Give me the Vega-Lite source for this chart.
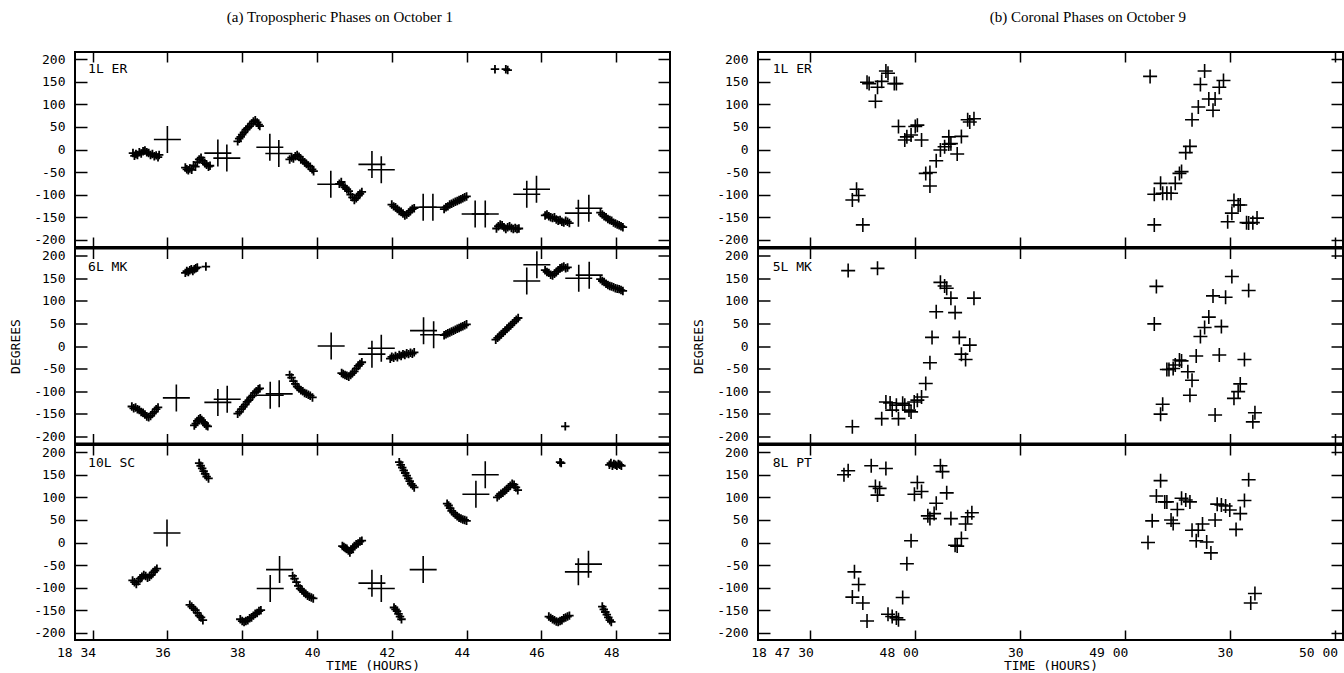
{
"$schema": "https://vega.github.io/schema/vega-lite/v6.json",
"background": "white",
"padding": {"left": 8, "top": 10, "right": 0, "bottom": 0},
"config": {
 "view": {"stroke": "black", "strokeWidth": 2},
 "title": {"font": "Liberation Serif", "fontSize": 15, "fontWeight": "normal", "color": "black", "anchor": "middle"},
 "axis": {"domain": false, "grid": false, "tickColor": "black", "tickWidth": 1.5, "labelFont": "DejaVu Sans Mono", "labelFontSize": 13, "labelColor": "black", "titleFont": "DejaVu Sans Mono", "titleFontSize": 13, "titleFontWeight": "normal", "titleColor": "black"},
 "axisX": {"tickSize": -10, "labelPadding": 16, "labelAlign": "right", "labelOffset": 3, "labelFlush": false, "labelOverlap": false, "titlePadding": 0},
 "axisY": {"tickSize": -12, "labelPadding": 22, "minExtent": 50, "titlePadding": 3, "labelOverlap": false}
},
"datasets": {
 "a": [
{"p":1,"t":35.08,"d":-8,"k":"s"},{"p":1,"t":35.12,"d":-14,"k":"s"},{"p":1,"t":35.16,"d":-10,"k":"s"},{"p":1,"t":35.2,"d":-12,"k":"s"},{"p":1,"t":35.25,"d":-6,"k":"s"},{"p":1,"t":35.3,"d":-9,"k":"s"},{"p":1,"t":35.35,"d":-4,"k":"s"},{"p":1,"t":35.4,"d":-2,"k":"s"},{"p":1,"t":35.45,"d":-6,"k":"s"},{"p":1,"t":35.5,"d":-8,"k":"s"},{"p":1,"t":35.55,"d":-12,"k":"s"},{"p":1,"t":35.6,"d":-10,"k":"s"},{"p":1,"t":35.65,"d":-15,"k":"s"},{"p":1,"t":35.7,"d":-13,"k":"s"},{"p":1,"t":35.75,"d":-17,"k":"s"},{"p":1,"t":35.78,"d":-12,"k":"s"},
{"p":1,"t":36.48,"d":-40,"k":"s"},{"p":1,"t":36.52,"d":-44,"k":"s"},{"p":1,"t":36.56,"d":-46,"k":"s"},{"p":1,"t":36.6,"d":-42,"k":"s"},{"p":1,"t":36.65,"d":-45,"k":"s"},{"p":1,"t":36.7,"d":-35,"k":"s"},{"p":1,"t":36.75,"d":-38,"k":"s"},{"p":1,"t":36.8,"d":-28,"k":"s"},{"p":1,"t":36.85,"d":-22,"k":"s"},{"p":1,"t":36.9,"d":-18,"k":"s"},{"p":1,"t":36.95,"d":-25,"k":"s"},{"p":1,"t":37.0,"d":-30,"k":"s"},{"p":1,"t":37.05,"d":-34,"k":"s"},{"p":1,"t":37.1,"d":-38,"k":"s"},{"p":1,"t":37.14,"d":-36,"k":"s"},
{"p":1,"t":37.88,"d":18,"k":"s"},{"p":1,"t":37.92,"d":24,"k":"s"},{"p":1,"t":37.96,"d":28,"k":"s"},{"p":1,"t":38.0,"d":33,"k":"s"},{"p":1,"t":38.05,"d":38,"k":"s"},{"p":1,"t":38.1,"d":44,"k":"s"},{"p":1,"t":38.15,"d":48,"k":"s"},{"p":1,"t":38.2,"d":52,"k":"s"},{"p":1,"t":38.25,"d":57,"k":"s"},{"p":1,"t":38.3,"d":62,"k":"s"},{"p":1,"t":38.35,"d":65,"k":"s"},{"p":1,"t":38.4,"d":60,"k":"s"},{"p":1,"t":38.44,"d":55,"k":"s"},{"p":1,"t":38.47,"d":52,"k":"s"},
{"p":1,"t":39.27,"d":-22,"k":"s"},{"p":1,"t":39.32,"d":-18,"k":"s"},{"p":1,"t":39.37,"d":-20,"k":"s"},{"p":1,"t":39.42,"d":-15,"k":"s"},{"p":1,"t":39.47,"d":-12,"k":"s"},{"p":1,"t":39.52,"d":-16,"k":"s"},{"p":1,"t":39.57,"d":-22,"k":"s"},{"p":1,"t":39.62,"d":-24,"k":"s"},{"p":1,"t":39.67,"d":-28,"k":"s"},{"p":1,"t":39.72,"d":-32,"k":"s"},{"p":1,"t":39.77,"d":-36,"k":"s"},{"p":1,"t":39.82,"d":-38,"k":"s"},{"p":1,"t":39.87,"d":-44,"k":"s"},{"p":1,"t":39.91,"d":-48,"k":"s"},
{"p":1,"t":40.6,"d":-76,"k":"s"},{"p":1,"t":40.65,"d":-72,"k":"s"},{"p":1,"t":40.7,"d":-80,"k":"s"},{"p":1,"t":40.75,"d":-84,"k":"s"},{"p":1,"t":40.8,"d":-88,"k":"s"},{"p":1,"t":40.85,"d":-92,"k":"s"},{"p":1,"t":40.9,"d":-100,"k":"s"},{"p":1,"t":40.95,"d":-106,"k":"s"},{"p":1,"t":41.0,"d":-112,"k":"s"},{"p":1,"t":41.05,"d":-108,"k":"s"},{"p":1,"t":41.1,"d":-102,"k":"s"},{"p":1,"t":41.15,"d":-98,"k":"s"},{"p":1,"t":41.2,"d":-94,"k":"s"},
{"p":1,"t":42.0,"d":-122,"k":"s"},{"p":1,"t":42.05,"d":-126,"k":"s"},{"p":1,"t":42.1,"d":-128,"k":"s"},{"p":1,"t":42.15,"d":-132,"k":"s"},{"p":1,"t":42.2,"d":-136,"k":"s"},{"p":1,"t":42.25,"d":-138,"k":"s"},{"p":1,"t":42.3,"d":-142,"k":"s"},{"p":1,"t":42.35,"d":-146,"k":"s"},{"p":1,"t":42.4,"d":-144,"k":"s"},{"p":1,"t":42.45,"d":-140,"k":"s"},{"p":1,"t":42.5,"d":-136,"k":"s"},{"p":1,"t":42.55,"d":-132,"k":"s"},{"p":1,"t":42.6,"d":-130,"k":"s"},
{"p":1,"t":43.4,"d":-132,"k":"s"},{"p":1,"t":43.45,"d":-128,"k":"s"},{"p":1,"t":43.5,"d":-126,"k":"s"},{"p":1,"t":43.55,"d":-122,"k":"s"},{"p":1,"t":43.6,"d":-120,"k":"s"},{"p":1,"t":43.65,"d":-118,"k":"s"},{"p":1,"t":43.7,"d":-116,"k":"s"},{"p":1,"t":43.75,"d":-114,"k":"s"},{"p":1,"t":43.8,"d":-112,"k":"s"},{"p":1,"t":43.85,"d":-110,"k":"s"},{"p":1,"t":43.9,"d":-108,"k":"s"},{"p":1,"t":43.95,"d":-106,"k":"s"},{"p":1,"t":44.0,"d":-104,"k":"s"},
{"p":1,"t":44.76,"d":178,"k":"s"},{"p":1,"t":45.05,"d":178,"k":"s"},{"p":1,"t":45.1,"d":176,"k":"s"},
{"p":1,"t":44.8,"d":-175,"k":"s"},{"p":1,"t":44.85,"d":-170,"k":"s"},{"p":1,"t":44.9,"d":-166,"k":"s"},{"p":1,"t":44.95,"d":-168,"k":"s"},{"p":1,"t":45.0,"d":-172,"k":"s"},{"p":1,"t":45.05,"d":-176,"k":"s"},{"p":1,"t":45.1,"d":-172,"k":"s"},{"p":1,"t":45.15,"d":-170,"k":"s"},{"p":1,"t":45.2,"d":-174,"k":"s"},{"p":1,"t":45.25,"d":-176,"k":"s"},{"p":1,"t":45.3,"d":-174,"k":"s"},{"p":1,"t":45.35,"d":-176,"k":"s"},{"p":1,"t":45.4,"d":-175,"k":"s"},
{"p":1,"t":46.1,"d":-146,"k":"s"},{"p":1,"t":46.15,"d":-144,"k":"s"},{"p":1,"t":46.2,"d":-148,"k":"s"},{"p":1,"t":46.25,"d":-150,"k":"s"},{"p":1,"t":46.3,"d":-152,"k":"s"},{"p":1,"t":46.35,"d":-150,"k":"s"},{"p":1,"t":46.4,"d":-155,"k":"s"},{"p":1,"t":46.45,"d":-158,"k":"s"},{"p":1,"t":46.5,"d":-156,"k":"s"},{"p":1,"t":46.55,"d":-160,"k":"s"},{"p":1,"t":46.6,"d":-162,"k":"s"},{"p":1,"t":46.65,"d":-158,"k":"s"},{"p":1,"t":46.7,"d":-160,"k":"s"},{"p":1,"t":46.75,"d":-163,"k":"s"},
{"p":1,"t":47.58,"d":-140,"k":"s"},{"p":1,"t":47.63,"d":-144,"k":"s"},{"p":1,"t":47.68,"d":-148,"k":"s"},{"p":1,"t":47.73,"d":-150,"k":"s"},{"p":1,"t":47.78,"d":-154,"k":"s"},{"p":1,"t":47.83,"d":-156,"k":"s"},{"p":1,"t":47.88,"d":-158,"k":"s"},{"p":1,"t":47.93,"d":-162,"k":"s"},{"p":1,"t":47.98,"d":-164,"k":"s"},{"p":1,"t":48.03,"d":-166,"k":"s"},{"p":1,"t":48.08,"d":-168,"k":"s"},{"p":1,"t":48.13,"d":-170,"k":"s"},{"p":1,"t":48.18,"d":-172,"k":"s"},
{"p":1,"t":36.0,"d":22,"k":"b"},{"p":1,"t":37.35,"d":-8,"k":"b"},{"p":1,"t":37.59,"d":-19,"k":"b"},{"p":1,"t":38.74,"d":5,"k":"b"},{"p":1,"t":38.98,"d":-9,"k":"b"},{"p":1,"t":40.37,"d":-77,"k":"b"},{"p":1,"t":41.47,"d":-33,"k":"b"},{"p":1,"t":41.72,"d":-45,"k":"b"},{"p":1,"t":42.84,"d":-128,"k":"b"},{"p":1,"t":43.1,"d":-128,"k":"b"},{"p":1,"t":44.23,"d":-143,"k":"b"},{"p":1,"t":44.5,"d":-143,"k":"b"},{"p":1,"t":45.61,"d":-99,"k":"b"},{"p":1,"t":45.87,"d":-88,"k":"b"},{"p":1,"t":46.99,"d":-141,"k":"b"},{"p":1,"t":47.27,"d":-130,"k":"b"},
{"p":2,"t":36.48,"d":162,"k":"s"},{"p":2,"t":36.52,"d":166,"k":"s"},{"p":2,"t":36.56,"d":164,"k":"s"},{"p":2,"t":36.6,"d":168,"k":"s"},{"p":2,"t":36.64,"d":170,"k":"s"},{"p":2,"t":36.68,"d":166,"k":"s"},{"p":2,"t":36.72,"d":170,"k":"s"},{"p":2,"t":36.76,"d":172,"k":"s"},{"p":2,"t":36.8,"d":174,"k":"s"},{"p":2,"t":37.03,"d":176,"k":"s"},
{"p":2,"t":35.05,"d":-134,"k":"s"},{"p":2,"t":35.1,"d":-138,"k":"s"},{"p":2,"t":35.15,"d":-136,"k":"s"},{"p":2,"t":35.2,"d":-140,"k":"s"},{"p":2,"t":35.25,"d":-142,"k":"s"},{"p":2,"t":35.3,"d":-146,"k":"s"},{"p":2,"t":35.35,"d":-148,"k":"s"},{"p":2,"t":35.4,"d":-152,"k":"s"},{"p":2,"t":35.45,"d":-156,"k":"s"},{"p":2,"t":35.5,"d":-158,"k":"s"},{"p":2,"t":35.55,"d":-155,"k":"s"},{"p":2,"t":35.6,"d":-150,"k":"s"},{"p":2,"t":35.65,"d":-146,"k":"s"},{"p":2,"t":35.7,"d":-140,"k":"s"},{"p":2,"t":35.75,"d":-136,"k":"s"},
{"p":2,"t":36.72,"d":-176,"k":"s"},{"p":2,"t":36.76,"d":-172,"k":"s"},{"p":2,"t":36.8,"d":-166,"k":"s"},{"p":2,"t":36.84,"d":-162,"k":"s"},{"p":2,"t":36.88,"d":-160,"k":"s"},{"p":2,"t":36.92,"d":-164,"k":"s"},{"p":2,"t":36.96,"d":-168,"k":"s"},{"p":2,"t":37.0,"d":-172,"k":"s"},{"p":2,"t":37.04,"d":-176,"k":"s"},{"p":2,"t":37.08,"d":-178,"k":"s"},
{"p":2,"t":37.88,"d":-150,"k":"s"},{"p":2,"t":37.93,"d":-146,"k":"s"},{"p":2,"t":37.98,"d":-140,"k":"s"},{"p":2,"t":38.03,"d":-135,"k":"s"},{"p":2,"t":38.08,"d":-130,"k":"s"},{"p":2,"t":38.13,"d":-124,"k":"s"},{"p":2,"t":38.18,"d":-120,"k":"s"},{"p":2,"t":38.23,"d":-114,"k":"s"},{"p":2,"t":38.28,"d":-110,"k":"s"},{"p":2,"t":38.33,"d":-104,"k":"s"},{"p":2,"t":38.38,"d":-100,"k":"s"},{"p":2,"t":38.43,"d":-96,"k":"s"},{"p":2,"t":38.47,"d":-94,"k":"s"},
{"p":2,"t":39.27,"d":-64,"k":"s"},{"p":2,"t":39.32,"d":-70,"k":"s"},{"p":2,"t":39.37,"d":-78,"k":"s"},{"p":2,"t":39.42,"d":-84,"k":"s"},{"p":2,"t":39.47,"d":-90,"k":"s"},{"p":2,"t":39.52,"d":-94,"k":"s"},{"p":2,"t":39.57,"d":-98,"k":"s"},{"p":2,"t":39.62,"d":-100,"k":"s"},{"p":2,"t":39.67,"d":-104,"k":"s"},{"p":2,"t":39.72,"d":-106,"k":"s"},{"p":2,"t":39.77,"d":-108,"k":"s"},{"p":2,"t":39.82,"d":-110,"k":"s"},{"p":2,"t":39.88,"d":-114,"k":"s"},
{"p":2,"t":40.66,"d":-60,"k":"s"},{"p":2,"t":40.7,"d":-62,"k":"s"},{"p":2,"t":40.75,"d":-64,"k":"s"},{"p":2,"t":40.8,"d":-66,"k":"s"},{"p":2,"t":40.85,"d":-68,"k":"s"},{"p":2,"t":40.9,"d":-64,"k":"s"},{"p":2,"t":40.95,"d":-60,"k":"s"},{"p":2,"t":41.0,"d":-56,"k":"s"},{"p":2,"t":41.05,"d":-50,"k":"s"},{"p":2,"t":41.1,"d":-44,"k":"s"},{"p":2,"t":41.15,"d":-40,"k":"s"},{"p":2,"t":41.2,"d":-36,"k":"s"},
{"p":2,"t":41.96,"d":-28,"k":"s"},{"p":2,"t":42.0,"d":-24,"k":"s"},{"p":2,"t":42.05,"d":-26,"k":"s"},{"p":2,"t":42.1,"d":-22,"k":"s"},{"p":2,"t":42.15,"d":-25,"k":"s"},{"p":2,"t":42.2,"d":-20,"k":"s"},{"p":2,"t":42.25,"d":-22,"k":"s"},{"p":2,"t":42.3,"d":-18,"k":"s"},{"p":2,"t":42.35,"d":-20,"k":"s"},{"p":2,"t":42.4,"d":-16,"k":"s"},{"p":2,"t":42.45,"d":-18,"k":"s"},{"p":2,"t":42.5,"d":-15,"k":"s"},{"p":2,"t":42.55,"d":-17,"k":"s"},{"p":2,"t":42.6,"d":-14,"k":"s"},
{"p":2,"t":43.4,"d":24,"k":"s"},{"p":2,"t":43.45,"d":26,"k":"s"},{"p":2,"t":43.5,"d":28,"k":"s"},{"p":2,"t":43.55,"d":30,"k":"s"},{"p":2,"t":43.6,"d":32,"k":"s"},{"p":2,"t":43.65,"d":34,"k":"s"},{"p":2,"t":43.7,"d":36,"k":"s"},{"p":2,"t":43.75,"d":38,"k":"s"},{"p":2,"t":43.8,"d":40,"k":"s"},{"p":2,"t":43.85,"d":42,"k":"s"},{"p":2,"t":43.9,"d":44,"k":"s"},{"p":2,"t":43.95,"d":46,"k":"s"},{"p":2,"t":44.0,"d":48,"k":"s"},
{"p":2,"t":44.78,"d":14,"k":"s"},{"p":2,"t":44.83,"d":18,"k":"s"},{"p":2,"t":44.88,"d":22,"k":"s"},{"p":2,"t":44.93,"d":26,"k":"s"},{"p":2,"t":44.98,"d":30,"k":"s"},{"p":2,"t":45.03,"d":34,"k":"s"},{"p":2,"t":45.08,"d":38,"k":"s"},{"p":2,"t":45.13,"d":42,"k":"s"},{"p":2,"t":45.18,"d":46,"k":"s"},{"p":2,"t":45.23,"d":50,"k":"s"},{"p":2,"t":45.28,"d":54,"k":"s"},{"p":2,"t":45.33,"d":58,"k":"s"},{"p":2,"t":45.38,"d":62,"k":"s"},
{"p":2,"t":46.1,"d":168,"k":"s"},{"p":2,"t":46.15,"d":164,"k":"s"},{"p":2,"t":46.2,"d":162,"k":"s"},{"p":2,"t":46.25,"d":158,"k":"s"},{"p":2,"t":46.3,"d":156,"k":"s"},{"p":2,"t":46.35,"d":160,"k":"s"},{"p":2,"t":46.4,"d":164,"k":"s"},{"p":2,"t":46.45,"d":168,"k":"s"},{"p":2,"t":46.5,"d":172,"k":"s"},{"p":2,"t":46.55,"d":174,"k":"s"},{"p":2,"t":46.6,"d":176,"k":"s"},{"p":2,"t":46.65,"d":172,"k":"s"},{"p":2,"t":46.7,"d":174,"k":"s"},
{"p":2,"t":47.58,"d":148,"k":"s"},{"p":2,"t":47.63,"d":144,"k":"s"},{"p":2,"t":47.68,"d":142,"k":"s"},{"p":2,"t":47.73,"d":138,"k":"s"},{"p":2,"t":47.78,"d":135,"k":"s"},{"p":2,"t":47.83,"d":133,"k":"s"},{"p":2,"t":47.88,"d":132,"k":"s"},{"p":2,"t":47.93,"d":130,"k":"s"},{"p":2,"t":47.98,"d":128,"k":"s"},{"p":2,"t":48.03,"d":127,"k":"s"},{"p":2,"t":48.08,"d":126,"k":"s"},{"p":2,"t":48.13,"d":124,"k":"s"},{"p":2,"t":48.18,"d":122,"k":"s"},
{"p":2,"t":46.64,"d":-178,"k":"s"},
{"p":2,"t":36.24,"d":-115,"k":"b"},{"p":2,"t":37.35,"d":-125,"k":"b"},{"p":2,"t":37.6,"d":-118,"k":"b"},{"p":2,"t":38.75,"d":-109,"k":"b"},{"p":2,"t":38.99,"d":-106,"k":"b"},{"p":2,"t":40.38,"d":0,"k":"b"},{"p":2,"t":41.47,"d":-18,"k":"b"},{"p":2,"t":41.72,"d":-5,"k":"b"},{"p":2,"t":42.85,"d":34,"k":"b"},{"p":2,"t":43.12,"d":25,"k":"b"},{"p":2,"t":45.61,"d":144,"k":"b"},{"p":2,"t":45.88,"d":180,"k":"b"},{"p":2,"t":47.0,"d":150,"k":"b"},{"p":2,"t":47.28,"d":157,"k":"b"},
{"p":3,"t":35.07,"d":-84,"k":"s"},{"p":3,"t":35.12,"d":-88,"k":"s"},{"p":3,"t":35.17,"d":-92,"k":"s"},{"p":3,"t":35.22,"d":-86,"k":"s"},{"p":3,"t":35.27,"d":-80,"k":"s"},{"p":3,"t":35.32,"d":-76,"k":"s"},{"p":3,"t":35.37,"d":-72,"k":"s"},{"p":3,"t":35.42,"d":-74,"k":"s"},{"p":3,"t":35.47,"d":-78,"k":"s"},{"p":3,"t":35.52,"d":-76,"k":"s"},{"p":3,"t":35.57,"d":-72,"k":"s"},{"p":3,"t":35.62,"d":-66,"k":"s"},{"p":3,"t":35.67,"d":-62,"k":"s"},{"p":3,"t":35.72,"d":-58,"k":"s"},
{"p":3,"t":36.6,"d":-138,"k":"s"},{"p":3,"t":36.65,"d":-142,"k":"s"},{"p":3,"t":36.7,"d":-146,"k":"s"},{"p":3,"t":36.75,"d":-150,"k":"s"},{"p":3,"t":36.8,"d":-156,"k":"s"},{"p":3,"t":36.85,"d":-162,"k":"s"},{"p":3,"t":36.9,"d":-166,"k":"s"},{"p":3,"t":36.95,"d":-172,"k":"s"},
{"p":3,"t":36.85,"d":176,"k":"s"},{"p":3,"t":36.89,"d":170,"k":"s"},{"p":3,"t":36.93,"d":164,"k":"s"},{"p":3,"t":36.97,"d":158,"k":"s"},{"p":3,"t":37.01,"d":152,"k":"s"},{"p":3,"t":37.05,"d":146,"k":"s"},{"p":3,"t":37.1,"d":142,"k":"s"},
{"p":3,"t":37.95,"d":-170,"k":"s"},{"p":3,"t":38.0,"d":-174,"k":"s"},{"p":3,"t":38.05,"d":-176,"k":"s"},{"p":3,"t":38.1,"d":-174,"k":"s"},{"p":3,"t":38.15,"d":-172,"k":"s"},{"p":3,"t":38.2,"d":-168,"k":"s"},{"p":3,"t":38.25,"d":-166,"k":"s"},{"p":3,"t":38.3,"d":-162,"k":"s"},{"p":3,"t":38.35,"d":-158,"k":"s"},{"p":3,"t":38.4,"d":-156,"k":"s"},{"p":3,"t":38.45,"d":-152,"k":"s"},{"p":3,"t":38.5,"d":-150,"k":"s"},
{"p":3,"t":39.35,"d":-74,"k":"s"},{"p":3,"t":39.4,"d":-80,"k":"s"},{"p":3,"t":39.45,"d":-88,"k":"s"},{"p":3,"t":39.5,"d":-96,"k":"s"},{"p":3,"t":39.55,"d":-102,"k":"s"},{"p":3,"t":39.6,"d":-106,"k":"s"},{"p":3,"t":39.65,"d":-110,"k":"s"},{"p":3,"t":39.7,"d":-114,"k":"s"},{"p":3,"t":39.75,"d":-118,"k":"s"},{"p":3,"t":39.8,"d":-120,"k":"s"},{"p":3,"t":39.85,"d":-122,"k":"s"},{"p":3,"t":39.9,"d":-124,"k":"s"},
{"p":3,"t":40.68,"d":-8,"k":"s"},{"p":3,"t":40.72,"d":-10,"k":"s"},{"p":3,"t":40.76,"d":-12,"k":"s"},{"p":3,"t":40.8,"d":-14,"k":"s"},{"p":3,"t":40.84,"d":-18,"k":"s"},{"p":3,"t":40.88,"d":-22,"k":"s"},{"p":3,"t":40.92,"d":-16,"k":"s"},{"p":3,"t":40.96,"d":-12,"k":"s"},{"p":3,"t":41.0,"d":-8,"k":"s"},{"p":3,"t":41.05,"d":-4,"k":"s"},{"p":3,"t":41.1,"d":-2,"k":"s"},{"p":3,"t":41.15,"d":2,"k":"s"},{"p":3,"t":41.2,"d":4,"k":"s"},
{"p":3,"t":42.06,"d":-144,"k":"s"},{"p":3,"t":42.1,"d":-148,"k":"s"},{"p":3,"t":42.14,"d":-152,"k":"s"},{"p":3,"t":42.18,"d":-158,"k":"s"},{"p":3,"t":42.22,"d":-164,"k":"s"},{"p":3,"t":42.26,"d":-170,"k":"s"},
{"p":3,"t":42.2,"d":178,"k":"s"},{"p":3,"t":42.24,"d":172,"k":"s"},{"p":3,"t":42.28,"d":166,"k":"s"},{"p":3,"t":42.32,"d":160,"k":"s"},{"p":3,"t":42.36,"d":154,"k":"s"},{"p":3,"t":42.4,"d":148,"k":"s"},{"p":3,"t":42.44,"d":142,"k":"s"},{"p":3,"t":42.48,"d":136,"k":"s"},{"p":3,"t":42.52,"d":130,"k":"s"},{"p":3,"t":42.56,"d":126,"k":"s"},{"p":3,"t":42.6,"d":122,"k":"s"},
{"p":3,"t":43.48,"d":86,"k":"s"},{"p":3,"t":43.52,"d":82,"k":"s"},{"p":3,"t":43.56,"d":76,"k":"s"},{"p":3,"t":43.6,"d":70,"k":"s"},{"p":3,"t":43.65,"d":66,"k":"s"},{"p":3,"t":43.7,"d":62,"k":"s"},{"p":3,"t":43.75,"d":58,"k":"s"},{"p":3,"t":43.8,"d":55,"k":"s"},{"p":3,"t":43.85,"d":53,"k":"s"},{"p":3,"t":43.9,"d":51,"k":"s"},{"p":3,"t":43.95,"d":50,"k":"s"},{"p":3,"t":44.0,"d":48,"k":"s"},
{"p":3,"t":44.82,"d":100,"k":"s"},{"p":3,"t":44.87,"d":104,"k":"s"},{"p":3,"t":44.92,"d":108,"k":"s"},{"p":3,"t":44.97,"d":110,"k":"s"},{"p":3,"t":45.02,"d":114,"k":"s"},{"p":3,"t":45.07,"d":118,"k":"s"},{"p":3,"t":45.12,"d":122,"k":"s"},{"p":3,"t":45.17,"d":126,"k":"s"},{"p":3,"t":45.22,"d":130,"k":"s"},{"p":3,"t":45.27,"d":128,"k":"s"},{"p":3,"t":45.32,"d":122,"k":"s"},{"p":3,"t":45.37,"d":116,"k":"s"},
{"p":3,"t":46.5,"d":178,"k":"s"},{"p":3,"t":46.53,"d":176,"k":"s"},
{"p":3,"t":46.2,"d":-164,"k":"s"},{"p":3,"t":46.25,"d":-167,"k":"s"},{"p":3,"t":46.3,"d":-170,"k":"s"},{"p":3,"t":46.35,"d":-172,"k":"s"},{"p":3,"t":46.4,"d":-175,"k":"s"},{"p":3,"t":46.45,"d":-176,"k":"s"},{"p":3,"t":46.5,"d":-174,"k":"s"},{"p":3,"t":46.55,"d":-172,"k":"s"},{"p":3,"t":46.6,"d":-168,"k":"s"},{"p":3,"t":46.65,"d":-166,"k":"s"},{"p":3,"t":46.7,"d":-164,"k":"s"},{"p":3,"t":46.75,"d":-162,"k":"s"},
{"p":3,"t":47.63,"d":-142,"k":"s"},{"p":3,"t":47.67,"d":-148,"k":"s"},{"p":3,"t":47.71,"d":-154,"k":"s"},{"p":3,"t":47.75,"d":-160,"k":"s"},{"p":3,"t":47.79,"d":-166,"k":"s"},{"p":3,"t":47.83,"d":-172,"k":"s"},{"p":3,"t":47.87,"d":-176,"k":"s"},
{"p":3,"t":47.82,"d":172,"k":"s"},{"p":3,"t":47.86,"d":176,"k":"s"},{"p":3,"t":47.9,"d":170,"k":"s"},{"p":3,"t":47.94,"d":174,"k":"s"},{"p":3,"t":47.98,"d":172,"k":"s"},{"p":3,"t":48.02,"d":170,"k":"s"},{"p":3,"t":48.06,"d":174,"k":"s"},{"p":3,"t":48.1,"d":172,"k":"s"},{"p":3,"t":48.14,"d":170,"k":"s"},
{"p":3,"t":35.99,"d":21,"k":"b"},{"p":3,"t":38.75,"d":-102,"k":"b"},{"p":3,"t":39.0,"d":-60,"k":"b"},{"p":3,"t":41.47,"d":-90,"k":"b"},{"p":3,"t":41.72,"d":-102,"k":"b"},{"p":3,"t":42.84,"d":-60,"k":"b"},{"p":3,"t":44.25,"d":107,"k":"b"},{"p":3,"t":44.5,"d":150,"k":"b"},{"p":3,"t":46.99,"d":-65,"k":"b"},{"p":3,"t":47.26,"d":-48,"k":"b"}
 ],
 "b": [
{"p":1,"t":47.70,"d":-112,"k":"m"},{"p":1,"t":47.72,"d":-88,"k":"m"},{"p":1,"t":47.73,"d":-102,"k":"m"},{"p":1,"t":47.75,"d":-167,"k":"m"},{"p":1,"t":47.77,"d":149,"k":"m"},{"p":1,"t":47.78,"d":146,"k":"m"},{"p":1,"t":47.82,"d":138,"k":"m"},{"p":1,"t":47.84,"d":151,"k":"m"},{"p":1,"t":47.81,"d":107,"k":"m"},{"p":1,"t":47.86,"d":174,"k":"m"},{"p":1,"t":47.87,"d":169,"k":"m"},{"p":1,"t":47.90,"d":146,"k":"m"},{"p":1,"t":47.91,"d":146,"k":"m"},{"p":1,"t":47.92,"d":51,"k":"m"},{"p":1,"t":47.95,"d":21,"k":"m"},{"p":1,"t":47.96,"d":28,"k":"m"},{"p":1,"t":47.98,"d":32,"k":"m"},{"p":1,"t":48.0,"d":51,"k":"m"},{"p":1,"t":48.01,"d":54,"k":"m"},{"p":1,"t":48.03,"d":21,"k":"m"},{"p":1,"t":48.05,"d":-53,"k":"m"},{"p":1,"t":48.07,"d":-51,"k":"m"},{"p":1,"t":48.07,"d":-81,"k":"m"},{"p":1,"t":48.10,"d":-25,"k":"m"},{"p":1,"t":48.12,"d":-1,"k":"m"},{"p":1,"t":48.14,"d":6,"k":"m"},{"p":1,"t":48.16,"d":28,"k":"m"},{"p":1,"t":48.16,"d":12,"k":"m"},{"p":1,"t":48.17,"d":13,"k":"m"},{"p":1,"t":48.20,"d":-10,"k":"m"},{"p":1,"t":48.22,"d":29,"k":"m"},{"p":1,"t":48.25,"d":66,"k":"m"},{"p":1,"t":48.26,"d":61,"k":"m"},{"p":1,"t":48.28,"d":68,"k":"m"},
{"p":1,"t":49.12,"d":162,"k":"m"},{"p":1,"t":49.14,"d":-167,"k":"m"},{"p":1,"t":49.14,"d":-99,"k":"m"},{"p":1,"t":49.17,"d":-75,"k":"m"},{"p":1,"t":49.18,"d":-97,"k":"m"},{"p":1,"t":49.20,"d":-97,"k":"m"},{"p":1,"t":49.22,"d":-97,"k":"m"},{"p":1,"t":49.24,"d":-75,"k":"m"},{"p":1,"t":49.26,"d":-53,"k":"m"},{"p":1,"t":49.27,"d":-49,"k":"m"},{"p":1,"t":49.29,"d":-7,"k":"m"},{"p":1,"t":49.31,"d":7,"k":"m"},{"p":1,"t":49.32,"d":66,"k":"m"},{"p":1,"t":49.35,"d":94,"k":"m"},{"p":1,"t":49.36,"d":144,"k":"m"},{"p":1,"t":49.38,"d":174,"k":"m"},{"p":1,"t":49.40,"d":112,"k":"m"},{"p":1,"t":49.43,"d":112,"k":"m"},{"p":1,"t":49.42,"d":87,"k":"m"},{"p":1,"t":49.45,"d":138,"k":"m"},{"p":1,"t":49.47,"d":153,"k":"m"},{"p":1,"t":49.49,"d":-160,"k":"m"},{"p":1,"t":49.51,"d":-141,"k":"m"},{"p":1,"t":49.52,"d":-113,"k":"m"},{"p":1,"t":49.54,"d":-123,"k":"m"},{"p":1,"t":49.55,"d":-123,"k":"m"},{"p":1,"t":49.58,"d":-162,"k":"m"},{"p":1,"t":49.59,"d":-163,"k":"m"},{"p":1,"t":49.61,"d":-162,"k":"m"},{"p":1,"t":49.63,"d":-152,"k":"m"},
{"p":2,"t":47.68,"d":167,"k":"m"},{"p":2,"t":47.82,"d":172,"k":"m"},{"p":2,"t":47.70,"d":-179,"k":"m"},{"p":2,"t":47.84,"d":-161,"k":"m"},{"p":2,"t":47.86,"d":-124,"k":"m"},{"p":2,"t":47.88,"d":-126,"k":"m"},{"p":2,"t":47.89,"d":-142,"k":"m"},{"p":2,"t":47.91,"d":-131,"k":"m"},{"p":2,"t":47.92,"d":-161,"k":"m"},{"p":2,"t":47.94,"d":-127,"k":"m"},{"p":2,"t":47.95,"d":-131,"k":"m"},{"p":2,"t":47.97,"d":-142,"k":"m"},{"p":2,"t":47.98,"d":-146,"k":"m"},{"p":2,"t":47.995,"d":-124,"k":"m"},{"p":2,"t":48.01,"d":-120,"k":"m"},{"p":2,"t":48.03,"d":-113,"k":"m"},{"p":2,"t":48.05,"d":-83,"k":"m"},{"p":2,"t":48.07,"d":-37,"k":"m"},{"p":2,"t":48.08,"d":19,"k":"m"},{"p":2,"t":48.10,"d":76,"k":"m"},{"p":2,"t":48.12,"d":141,"k":"m"},{"p":2,"t":48.14,"d":133,"k":"m"},{"p":2,"t":48.15,"d":128,"k":"m"},{"p":2,"t":48.17,"d":106,"k":"m"},{"p":2,"t":48.19,"d":74,"k":"m"},{"p":2,"t":48.21,"d":19,"k":"m"},{"p":2,"t":48.22,"d":-18,"k":"m"},{"p":2,"t":48.24,"d":-30,"k":"m"},{"p":2,"t":48.26,"d":2,"k":"m"},{"p":2,"t":48.28,"d":106,"k":"m"},
{"p":2,"t":49.14,"d":49,"k":"m"},{"p":2,"t":49.15,"d":132,"k":"m"},{"p":2,"t":49.17,"d":-151,"k":"m"},{"p":2,"t":49.18,"d":-129,"k":"m"},{"p":2,"t":49.20,"d":-52,"k":"m"},{"p":2,"t":49.21,"d":-52,"k":"m"},{"p":2,"t":49.23,"d":-50,"k":"m"},{"p":2,"t":49.24,"d":-42,"k":"m"},{"p":2,"t":49.26,"d":-31,"k":"m"},{"p":2,"t":49.27,"d":-33,"k":"m"},{"p":2,"t":49.30,"d":-57,"k":"m"},{"p":2,"t":49.32,"d":-76,"k":"m"},{"p":2,"t":49.31,"d":-109,"k":"m"},{"p":2,"t":49.34,"d":-22,"k":"m"},{"p":2,"t":49.36,"d":21,"k":"m"},{"p":2,"t":49.38,"d":41,"k":"m"},{"p":2,"t":49.40,"d":64,"k":"m"},{"p":2,"t":49.42,"d":111,"k":"m"},{"p":2,"t":49.43,"d":-153,"k":"m"},{"p":2,"t":49.45,"d":-20,"k":"m"},{"p":2,"t":49.46,"d":43,"k":"m"},{"p":2,"t":49.48,"d":108,"k":"m"},{"p":2,"t":49.51,"d":154,"k":"m"},{"p":2,"t":49.52,"d":-116,"k":"m"},{"p":2,"t":49.54,"d":-101,"k":"m"},{"p":2,"t":49.55,"d":-84,"k":"m"},{"p":2,"t":49.57,"d":-30,"k":"m"},{"p":2,"t":49.59,"d":123,"k":"m"},{"p":2,"t":49.61,"d":-168,"k":"m"},{"p":2,"t":49.62,"d":-148,"k":"m"},
{"p":3,"t":47.66,"d":150,"k":"m"},{"p":3,"t":47.68,"d":159,"k":"m"},{"p":3,"t":47.70,"d":-121,"k":"m"},{"p":3,"t":47.71,"d":-65,"k":"m"},{"p":3,"t":47.73,"d":-93,"k":"m"},{"p":3,"t":47.75,"d":-134,"k":"m"},{"p":3,"t":47.77,"d":-174,"k":"m"},{"p":3,"t":47.79,"d":170,"k":"m"},{"p":3,"t":47.81,"d":124,"k":"m"},{"p":3,"t":47.82,"d":105,"k":"m"},{"p":3,"t":47.83,"d":120,"k":"m"},{"p":3,"t":47.86,"d":164,"k":"m"},{"p":3,"t":47.87,"d":-159,"k":"m"},{"p":3,"t":47.89,"d":-164,"k":"m"},{"p":3,"t":47.91,"d":-167,"k":"m"},{"p":3,"t":47.92,"d":-171,"k":"m"},{"p":3,"t":47.94,"d":-122,"k":"m"},{"p":3,"t":47.96,"d":-47,"k":"m"},{"p":3,"t":47.98,"d":4,"k":"m"},{"p":3,"t":47.996,"d":107,"k":"m"},{"p":3,"t":48.01,"d":133,"k":"m"},{"p":3,"t":48.03,"d":113,"k":"m"},{"p":3,"t":48.06,"d":59,"k":"m"},{"p":3,"t":48.07,"d":53,"k":"m"},{"p":3,"t":48.09,"d":64,"k":"m"},{"p":3,"t":48.10,"d":87,"k":"m"},{"p":3,"t":48.12,"d":170,"k":"m"},{"p":3,"t":48.13,"d":157,"k":"m"},{"p":3,"t":48.15,"d":110,"k":"m"},{"p":3,"t":48.17,"d":53,"k":"m"},{"p":3,"t":48.19,"d":-6,"k":"m"},{"p":3,"t":48.20,"d":-8,"k":"m"},{"p":3,"t":48.22,"d":9,"k":"m"},{"p":3,"t":48.24,"d":41,"k":"m"},{"p":3,"t":48.25,"d":57,"k":"m"},{"p":3,"t":48.27,"d":66,"k":"m"},
{"p":3,"t":49.11,"d":0,"k":"m"},{"p":3,"t":49.13,"d":48,"k":"m"},{"p":3,"t":49.15,"d":103,"k":"m"},{"p":3,"t":49.17,"d":137,"k":"m"},{"p":3,"t":49.19,"d":90,"k":"m"},{"p":3,"t":49.20,"d":90,"k":"m"},{"p":3,"t":49.22,"d":50,"k":"m"},{"p":3,"t":49.23,"d":42,"k":"m"},{"p":3,"t":49.25,"d":73,"k":"m"},{"p":3,"t":49.27,"d":98,"k":"m"},{"p":3,"t":49.29,"d":94,"k":"m"},{"p":3,"t":49.31,"d":90,"k":"m"},{"p":3,"t":49.32,"d":27,"k":"m"},{"p":3,"t":49.34,"d":4,"k":"m"},{"p":3,"t":49.35,"d":27,"k":"m"},{"p":3,"t":49.37,"d":41,"k":"m"},{"p":3,"t":49.39,"d":1,"k":"m"},{"p":3,"t":49.41,"d":-23,"k":"m"},{"p":3,"t":49.43,"d":50,"k":"m"},{"p":3,"t":49.44,"d":85,"k":"m"},{"p":3,"t":49.46,"d":83,"k":"m"},{"p":3,"t":49.48,"d":81,"k":"m"},{"p":3,"t":49.50,"d":72,"k":"m"},{"p":3,"t":49.53,"d":29,"k":"m"},{"p":3,"t":49.55,"d":64,"k":"m"},{"p":3,"t":49.57,"d":93,"k":"m"},{"p":3,"t":49.59,"d":139,"k":"m"},{"p":3,"t":49.60,"d":-134,"k":"m"},{"p":3,"t":49.62,"d":-113,"k":"m"}
 ]
},
"spacing": 19,
"hconcat": [
 {
  "title": {"text": "(a) Tropospheric Phases on October 1", "offset": 25},
  "spacing": 1.5,
  "bounds": "flush",
  "vconcat": [
   {"width": 595, "height": 195, "layer": [
    {"data": {"name": "a"}, "transform": [{"filter": "datum.p == 1"}],
     "mark": {"type": "point", "shape": "M-1,0H1M0,-1V1", "filled": false, "stroke": "black", "opacity": 1},
     "encoding": {
      "x": {"field": "t", "type": "quantitative", "scale": {"domain": [33.53, 49.44], "nice": false, "zero": false}, "axis": {"orient": "bottom", "values": [34,36,38,40,42,44,46,48], "labels": false, "title": null}},
      "y": {"field": "d", "type": "quantitative", "scale": {"domain": [-216, 216], "nice": false, "zero": false}, "axis": {"orient": "left", "values": [-200,-150,-100,-50,0,50,100,150,200], "labelExpr": "'' + datum.value", "title": null}},
      "size": {"condition": {"test": "datum.k == 'b'", "value": 729}, "value": 72},
      "strokeWidth": {"condition": {"test": "datum.k == 'b'", "value": 1.6}, "value": 1.8}
     }},
    {"data": {"values": [{"label": "1L ER"}]},
     "mark": {"type": "text", "align": "left", "baseline": "middle", "font": "DejaVu Sans Mono", "fontSize": 13, "color": "black"},
     "encoding": {
      "text": {"field": "label"},
      "x": {"datum": 33.88, "type": "quantitative", "axis": {"orient": "top", "values": [34,36,38,40,42,44,46,48], "labels": false, "title": null}},
      "y": {"datum": 178, "type": "quantitative", "axis": {"orient": "right", "values": [-200,-150,-100,-50,0,50,100,150,200], "labels": false, "title": null, "minExtent": 0}}
     }}
   ]},
   {"width": 595, "height": 195, "layer": [
    {"data": {"name": "a"}, "transform": [{"filter": "datum.p == 2"}],
     "mark": {"type": "point", "shape": "M-1,0H1M0,-1V1", "filled": false, "stroke": "black", "opacity": 1},
     "encoding": {
      "x": {"field": "t", "type": "quantitative", "scale": {"domain": [33.53, 49.44], "nice": false, "zero": false}, "axis": {"orient": "bottom", "values": [34,36,38,40,42,44,46,48], "labels": false, "title": null}},
      "y": {"field": "d", "type": "quantitative", "scale": {"domain": [-216, 216], "nice": false, "zero": false}, "axis": {"orient": "left", "values": [-200,-150,-100,-50,0,50,100,150,200], "labelExpr": "'' + datum.value", "title": "DEGREES"}},
      "size": {"condition": {"test": "datum.k == 'b'", "value": 729}, "value": 72},
      "strokeWidth": {"condition": {"test": "datum.k == 'b'", "value": 1.6}, "value": 1.8}
     }},
    {"data": {"values": [{"label": "6L MK"}]},
     "mark": {"type": "text", "align": "left", "baseline": "middle", "font": "DejaVu Sans Mono", "fontSize": 13, "color": "black"},
     "encoding": {
      "text": {"field": "label"},
      "x": {"datum": 33.88, "type": "quantitative", "axis": {"orient": "top", "values": [34,36,38,40,42,44,46,48], "labels": false, "title": null}},
      "y": {"datum": 176, "type": "quantitative", "axis": {"orient": "right", "values": [-200,-150,-100,-50,0,50,100,150,200], "labels": false, "title": null, "minExtent": 0}}
     }}
   ]},
   {"width": 595, "height": 195, "layer": [
    {"data": {"name": "a"}, "transform": [{"filter": "datum.p == 3"}],
     "mark": {"type": "point", "shape": "M-1,0H1M0,-1V1", "filled": false, "stroke": "black", "opacity": 1},
     "encoding": {
      "x": {"field": "t", "type": "quantitative", "scale": {"domain": [33.53, 49.44], "nice": false, "zero": false}, "axis": {"orient": "bottom", "values": [34,36,38,40,42,44,46,48], "labelExpr": "datum.value == 34 ? '18 34' : '' + datum.value", "title": "TIME (HOURS)"}},
      "y": {"field": "d", "type": "quantitative", "scale": {"domain": [-216, 216], "nice": false, "zero": false}, "axis": {"orient": "left", "values": [-200,-150,-100,-50,0,50,100,150,200], "labelExpr": "'' + datum.value", "title": null}},
      "size": {"condition": {"test": "datum.k == 'b'", "value": 729}, "value": 72},
      "strokeWidth": {"condition": {"test": "datum.k == 'b'", "value": 1.6}, "value": 1.8}
     }},
    {"data": {"values": [{"label": "10L SC"}]},
     "mark": {"type": "text", "align": "left", "baseline": "middle", "font": "DejaVu Sans Mono", "fontSize": 13, "color": "black"},
     "encoding": {
      "text": {"field": "label"},
      "x": {"datum": 33.88, "type": "quantitative", "axis": {"orient": "top", "values": [34,36,38,40,42,44,46,48], "labels": false, "title": null}},
      "y": {"datum": 176, "type": "quantitative", "axis": {"orient": "right", "values": [-200,-150,-100,-50,0,50,100,150,200], "labels": false, "title": null, "minExtent": 0}}
     }}
   ]}
  ]
 },
 {
  "title": {"text": "(b) Coronal Phases on October 9", "offset": 25, "dx": 70},
  "spacing": 1.5,
  "bounds": "flush",
  "vconcat": [
   {"width": 585, "height": 195, "layer": [
    {"data": {"name": "b"}, "transform": [{"filter": "datum.p == 1"}],
     "mark": {"type": "point", "shape": "M-1,0H1M0,-1V1", "filled": false, "stroke": "black", "opacity": 1, "size": 196, "strokeWidth": 1.6},
     "encoding": {
      "x": {"field": "t", "type": "quantitative", "scale": {"domain": [47.25, 50.04], "nice": false, "zero": false}, "axis": {"orient": "bottom", "values": [47.5,48,48.5,49,49.5,50], "labels": false, "title": null}},
      "y": {"field": "d", "type": "quantitative", "scale": {"domain": [-216, 216], "nice": false, "zero": false}, "axis": {"orient": "left", "values": [-200,-150,-100,-50,0,50,100,150,200], "labelExpr": "'' + datum.value", "title": null}}
     }},
    {"data": {"values": [{"label": "1L ER"}]},
     "mark": {"type": "text", "align": "left", "baseline": "middle", "font": "DejaVu Sans Mono", "fontSize": 13, "color": "black"},
     "encoding": {
      "text": {"field": "label"},
      "x": {"datum": 47.32, "type": "quantitative", "axis": {"orient": "top", "values": [47.5,48,48.5,49,49.5,50], "labels": false, "title": null}},
      "y": {"datum": 178, "type": "quantitative", "axis": {"orient": "right", "values": [-200,-150,-100,-50,0,50,100,150,200], "labels": false, "title": null, "minExtent": 0}}
     }}
   ]},
   {"width": 585, "height": 195, "layer": [
    {"data": {"name": "b"}, "transform": [{"filter": "datum.p == 2"}],
     "mark": {"type": "point", "shape": "M-1,0H1M0,-1V1", "filled": false, "stroke": "black", "opacity": 1, "size": 196, "strokeWidth": 1.6},
     "encoding": {
      "x": {"field": "t", "type": "quantitative", "scale": {"domain": [47.25, 50.04], "nice": false, "zero": false}, "axis": {"orient": "bottom", "values": [47.5,48,48.5,49,49.5,50], "labels": false, "title": null}},
      "y": {"field": "d", "type": "quantitative", "scale": {"domain": [-216, 216], "nice": false, "zero": false}, "axis": {"orient": "left", "values": [-200,-150,-100,-50,0,50,100,150,200], "labelExpr": "'' + datum.value", "title": "DEGREES"}}
     }},
    {"data": {"values": [{"label": "5L MK"}]},
     "mark": {"type": "text", "align": "left", "baseline": "middle", "font": "DejaVu Sans Mono", "fontSize": 13, "color": "black"},
     "encoding": {
      "text": {"field": "label"},
      "x": {"datum": 47.32, "type": "quantitative", "axis": {"orient": "top", "values": [47.5,48,48.5,49,49.5,50], "labels": false, "title": null}},
      "y": {"datum": 176, "type": "quantitative", "axis": {"orient": "right", "values": [-200,-150,-100,-50,0,50,100,150,200], "labels": false, "title": null, "minExtent": 0}}
     }}
   ]},
   {"width": 585, "height": 195, "layer": [
    {"data": {"name": "b"}, "transform": [{"filter": "datum.p == 3"}],
     "mark": {"type": "point", "shape": "M-1,0H1M0,-1V1", "filled": false, "stroke": "black", "opacity": 1, "size": 196, "strokeWidth": 1.6},
     "encoding": {
      "x": {"field": "t", "type": "quantitative", "scale": {"domain": [47.25, 50.04], "nice": false, "zero": false}, "axis": {"orient": "bottom", "values": [47.5,48,48.5,49,49.5,50], "labelExpr": "datum.value == 47.5 ? '18 47 30' : (datum.value % 1 == 0 ? datum.value + ' 00' : '30')", "title": "TIME (HOURS)"}},
      "y": {"field": "d", "type": "quantitative", "scale": {"domain": [-216, 216], "nice": false, "zero": false}, "axis": {"orient": "left", "values": [-200,-150,-100,-50,0,50,100,150,200], "labelExpr": "'' + datum.value", "title": null}}
     }},
    {"data": {"values": [{"label": "8L PT"}]},
     "mark": {"type": "text", "align": "left", "baseline": "middle", "font": "DejaVu Sans Mono", "fontSize": 13, "color": "black"},
     "encoding": {
      "text": {"field": "label"},
      "x": {"datum": 47.32, "type": "quantitative", "axis": {"orient": "top", "values": [47.5,48,48.5,49,49.5,50], "labels": false, "title": null}},
      "y": {"datum": 176, "type": "quantitative", "axis": {"orient": "right", "values": [-200,-150,-100,-50,0,50,100,150,200], "labels": false, "title": null, "minExtent": 0}}
     }}
   ]}
  ]
 }
]
}
